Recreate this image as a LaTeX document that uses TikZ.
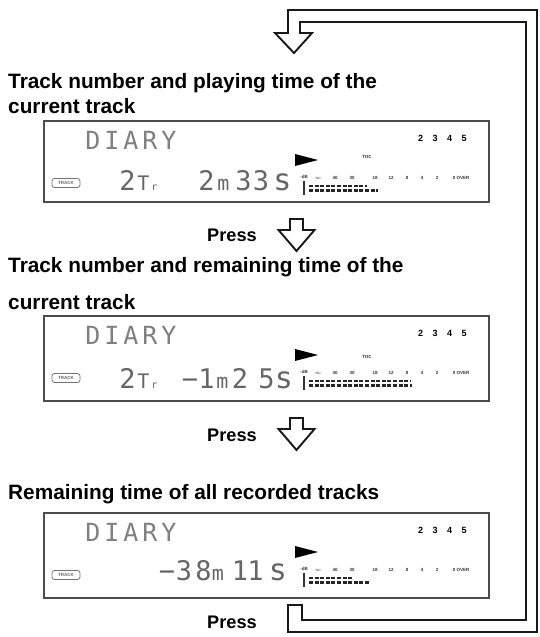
\documentclass[tikz,border=0pt]{standalone}
\usepackage{fontspec}
\setmainfont{Liberation Sans}
\newfontfamily\lcdfont{DejaVu Sans Mono}
\begin{document}
\begin{tikzpicture}[x=1pt,y=-1pt,
    heading/.style={anchor=base west,inner sep=0pt,font=\fontsize{20.8}{25}\selectfont\bfseries},
    presslabel/.style={anchor=base west,inner sep=0pt,font=\fontsize{18.2}{22}\selectfont\bfseries},
    lcdframe/.style={draw=black!70,line width=1.5pt,anchor=north west,minimum width=445pt,inner sep=0pt},
    outline/.style={draw=black!90,line width=1.9pt,line join=miter},
    lcdchar/.style={inner sep=0pt,anchor=base,text=black!60,font=\lcdfont\fontsize{#1}{#1}\selectfont},
    lcdchar/.default=27,
    bankno/.style={inner sep=0pt,font=\fontsize{9}{9}\selectfont\bfseries},
    meterlabel/.style={inner sep=0pt,text=black!80,font=\fontsize{4.5}{4.5}\selectfont\bfseries},
    badge/.style={draw=black!55,line width=0.8pt,rounded corners=2.5pt,minimum width=28pt,minimum height=9pt,
        inner sep=0pt,text=black!60,font=\fontsize{4.5}{4.5}\selectfont\bfseries},
    bar/.style={draw=black!85,line width=2.2pt,dash pattern=on 4pt off 1.6pt},
    pressarrow/.pic={
        \draw[outline,fill=white] (-6.5,0) -- (6.5,0) -- (6.5,11) -- (18,11) -- (0,32)
            -- (-18,11) -- (-6.5,11) -- cycle;
    }
]
\useasboundingbox (0,0) rectangle (540,637);

% headings
\node[heading] (head1a) at (8,88) {Track number and playing time of the};
\node[heading] (head1b) at (8,113.5) {current track};
\node[heading] (head2a) at (8,272) {Track number and remaining time of the};
\node[heading] (head2b) at (8,309.5) {current track};
\node[heading] (head3) at (8,499) {Remaining time of all recorded tracks};

% the three displays
\foreach \n/\ytop/\boxh/\rowa/\rowb in {1/120/81/367/378, 2/315/85/410/412, 3/512/85/353/370} {
    \node[lcdframe,minimum height=\boxh pt] (lcd\n) at (43,\ytop) {};
    \foreach \ch [count=\k] in {D,I,A,R,Y}
        \node[lcdchar=25,anchor=center,text=black!50] (diary\n\k) at ({74+19*\k},{\ytop+20}) {\ch};
    \foreach \d [count=\k] in {2,3,4,5}
        \node[bankno] (bank\n\k) at ({406+14.5*\k},{\ytop+18}) {\d};
    % play mark
    \fill[black] (295,{\ytop+34}) -- (318,{\ytop+40}) -- (295,{\ytop+46}) -- cycle;
    \node[badge] (track\n) at (66,{\ytop+63}) {TRACK};
    % level meter
    \node[meterlabel] (db\n) at (304,{\ytop+57}) {-dB};
    \draw[line width=2.2pt,black!80] (304,{\ytop+61}) -- (304,{\ytop+75});
    \foreach \lab/\x [count=\k] in {$\infty$/318, 40/335, 30/352, 18/375, 12/391, 8/407, 4/422, 2/437, 0 OVER/461}
        \node[meterlabel] (scale\n\k) at (\x,{\ytop+58}) {\lab};
    \draw[bar] (309,{\ytop+66}) -- (\rowa,{\ytop+66});
    \draw[bar] (309,{\ytop+70.5}) -- (\rowb,{\ytop+70.5});
}
\node[meterlabel] (toc1) at (367,157) {TOC};
\node[meterlabel] (toc2) at (367,357) {TOC};

% display 1: 2Tr 2m33s
\foreach \c/\x [count=\k] in {2/127.5, 2/206.5, 3/243.5, 3/261}
    \node[lcdchar] (timea\k) at (\x,190) {\c};
\node[lcdchar=20] (tra) at (143.5,190) {T};
\node[lcdchar=10] (tra r) at (154.5,190) {r};
\node[lcdchar=20] (mina) at (223.5,190) {m};
\node[lcdchar=30] (seca) at (282.5,190) {s};

% display 2: 2Tr -1m25s
\foreach \c/\x [count=\k] in {2/127.5, \char"2212/190, 1/206.5, 2/240, 5/266.5}
    \node[lcdchar] (timeb\k) at (\x,388) {\c};
\node[lcdchar=20] (trb) at (143.5,388) {T};
\node[lcdchar=10] (trb r) at (154.5,388) {r};
\node[lcdchar=20] (minb) at (222.5,388) {m};
\node[lcdchar=30] (secb) at (284,388) {s};

% display 3: -38m11s
\foreach \c/\x [count=\k] in {\char"2212/167, 3/184, 8/203.5, 1/240, 1/255.5}
    \node[lcdchar] (timec\k) at (\x,580) {\c};
\node[lcdchar=20] (minc) at (218,580) {m};
\node[lcdchar=30] (secc) at (278,580) {s};

% press steps
\node[presslabel] (press1) at (207,241) {Press};
\pic at (296.5,219) {pressarrow};
\node[presslabel] (press2) at (207,441) {Press};
\pic at (296.5,418) {pressarrow};
\node[presslabel] (press3) at (207,628) {Press};

% return loop back to the top
\draw[outline] (288,605) -- (302,605) -- (302,620) -- (526,620) -- (526,22) -- (300,22)
    -- (300,33) -- (312,33) -- (294,53) -- (275,33) -- (288,33) -- (288,10) -- (537,10)
    -- (537,632) -- (288,632) -- cycle;
\end{tikzpicture}
\end{document}
